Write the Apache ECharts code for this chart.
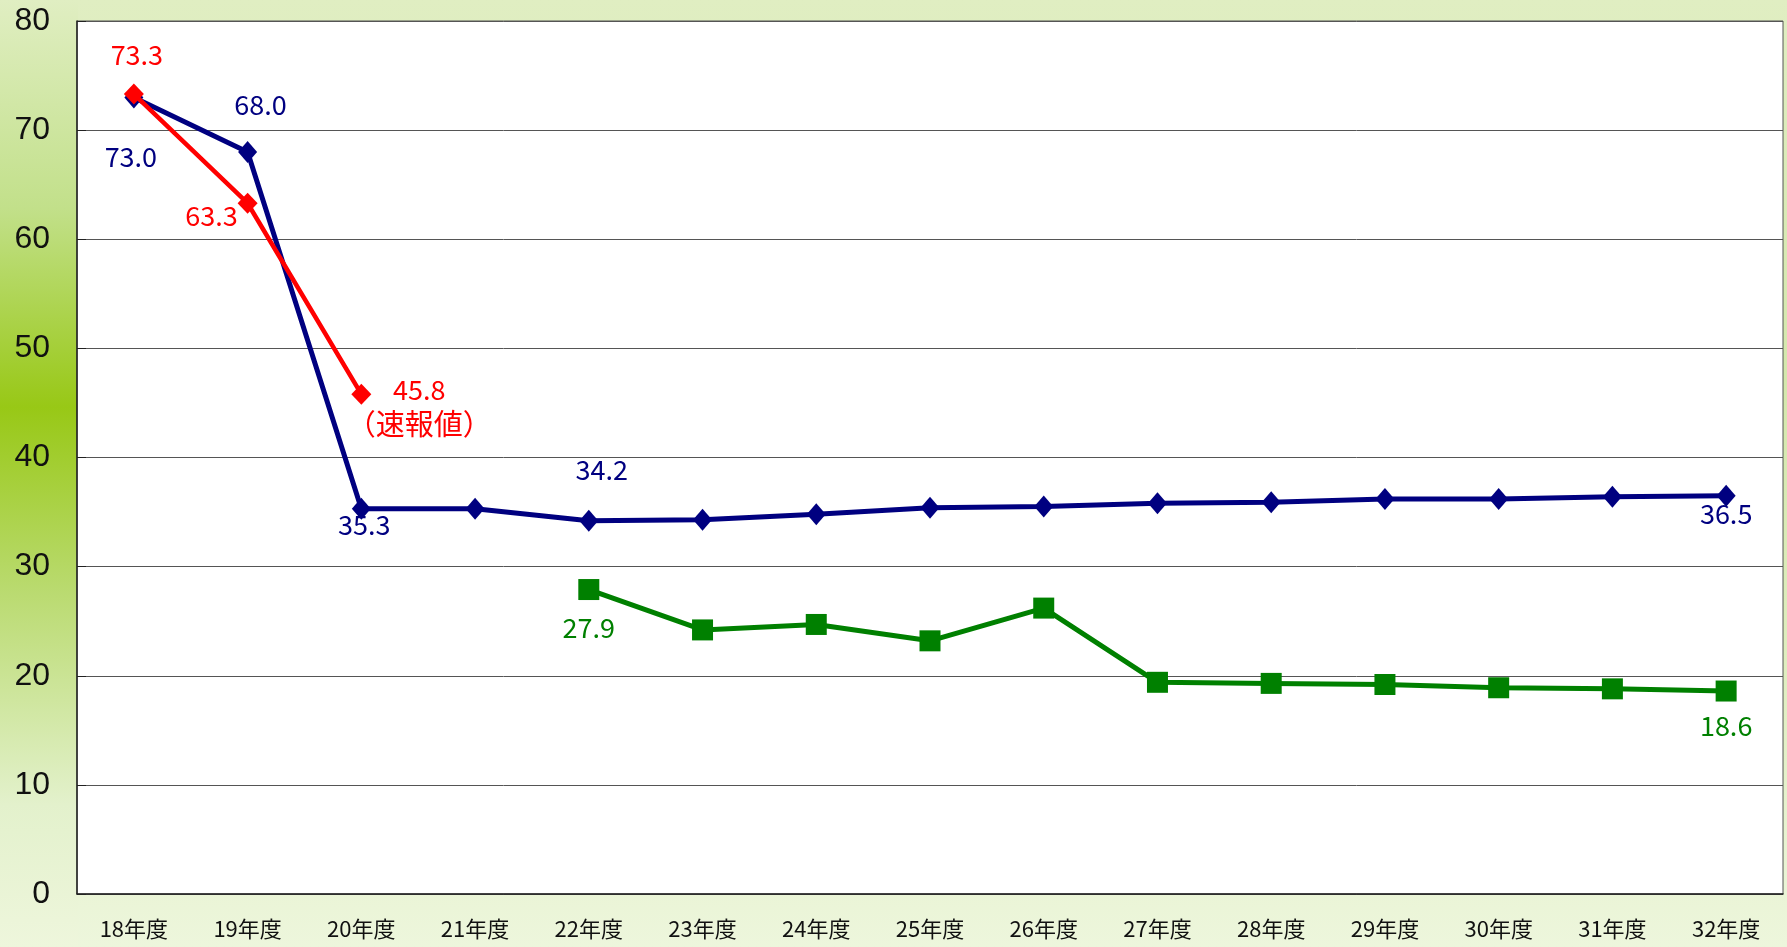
<!DOCTYPE html>
<html><head><meta charset="utf-8">
<script src="https://cdn.jsdelivr.net/npm/echarts@6/dist/echarts.min.js"></script>
<style>
html,body{margin:0;padding:0;width:1787px;height:947px;overflow:hidden;}
body{background:
 linear-gradient(to bottom,#e0eec2 0%,#c2e08a 22%,#98c816 43%,#b9da6e 62%,#e3f1cc 85%,#eef6dc 100%) left top/78px 100% no-repeat,
 linear-gradient(to bottom,#e0eec2 0%,#d4e8ac 40%,#dfeebf 70%,#edf6dc 100%);}
#c{width:1787px;height:947px;}
</style></head>
<body><div id="c"></div>
<script>
const categories = ['18年度','19年度','20年度','21年度','22年度','23年度','24年度','25年度','26年度','27年度','28年度','29年度','30年度','31年度','32年度'];
const blueValues = [73.0,68.0,35.3,35.3,34.2,34.3,34.8,35.4,35.5,35.8,35.9,36.2,36.2,36.4,36.5];
const redValues = [73.3,63.3,45.8,null,null,null,null,null,null,null,null,null,null,null,null];
const greenValues = [null,null,null,null,27.9,24.2,24.7,23.2,26.2,19.4,19.3,19.2,18.9,18.8,18.6];
const yTicks = [0,10,20,30,40,50,60,70,80];
const redNote = '（速報値）';

const cjkFont = '"Noto Sans CJK JP","Noto Sans",sans-serif';
// label placements (index -> offset) kept separate from data
const blueLabelPos = {0:[-3,59],1:[13,-47],2:[3,16],4:[13,-51],14:[0,18]};
const redLabelPos = {0:[3,-39],1:[-36,12],2:[58,13]};
const greenLabelPos = {4:[0,38],14:[0,35]};

function build(values, pos, color, fmt){
  return values.map((v,i)=>{
    if(v===null) return null;
    const o = {value:v};
    if(pos[i]){
      o.label = {show:true,position:'inside',offset:pos[i],color:color,
        fontFamily:cjkFont,fontSize:27,lineHeight:34,align:'center',
        formatter:fmt?fmt(i,v):v.toFixed(1),
        rich:{n:{fontFamily:cjkFont,fontSize:29,color:color,lineHeight:34}}};
    }
    return o;
  });
}

const chart = echarts.init(document.getElementById('c'));
chart.setOption({
  backgroundColor:'transparent',
  animation:false,
  grid:{left:77,right:4,top:21,bottom:53,show:true,backgroundColor:'#ffffff',borderColor:'#555',borderWidth:1},
  xAxis:{type:'category',data:categories,boundaryGap:true,
    axisLine:{lineStyle:{color:'#222',width:1.5}},
    axisTick:{inside:true,length:8,lineStyle:{color:'#222'}},
    axisLabel:{fontFamily:cjkFont,fontSize:22,color:'#111',margin:24}},
  yAxis:{type:'value',min:yTicks[0],max:yTicks[yTicks.length-1],interval:10,
    axisLine:{show:true,lineStyle:{color:'#222',width:1.5}},
    axisTick:{show:true,inside:true,length:9,lineStyle:{color:'#222'}},
    splitLine:{lineStyle:{color:'#555',width:1}},
    axisLabel:{fontFamily:'"Liberation Sans","Noto Sans",sans-serif',fontSize:32,color:'#111',margin:27}},
  series:[
    {type:'line',name:'blue',data:build(blueValues,blueLabelPos,'#000080'),
      symbol:'diamond',symbolSize:[19,22],lineStyle:{color:'#000080',width:5},itemStyle:{color:'#000080'},z:2},
    {type:'line',name:'red',data:build(redValues,redLabelPos,'#ff0000',(i,v)=> i===2? v.toFixed(1)+'\n{n|'+redNote+'}' : v.toFixed(1)),
      symbol:'diamond',symbolSize:[20,21],lineStyle:{color:'#ff0000',width:4.5},itemStyle:{color:'#ff0000'},z:3},
    {type:'line',name:'green',data:build(greenValues,greenLabelPos,'#008000'),
      symbol:'rect',symbolSize:21,lineStyle:{color:'#008000',width:5},itemStyle:{color:'#008000'},z:2}
  ]
});
</script></body></html>
